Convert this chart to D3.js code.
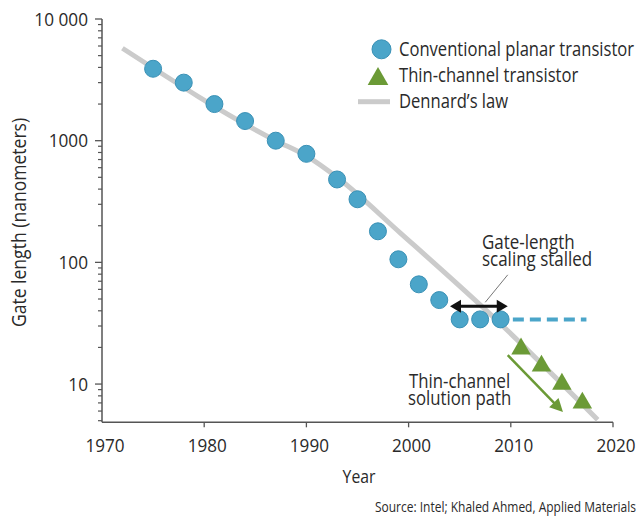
<!DOCTYPE html>
<html>
<head>
<meta charset="utf-8">
<script src="https://cdn.jsdelivr.net/npm/d3@7"></script>
<style>
  html, body { margin: 0; padding: 0; background: #fff; }
  svg { display: block; font-family: "Open Sans", sans-serif; }
</style>
</head>
<body>
<svg id="chart" width="638" height="516"></svg>
<script>
// Gate length of conventional planar transistors (nm) by year
const planarYears = [1975, 1978, 1981, 1984, 1987, 1990, 1993, 1995, 1997, 1999, 2001, 2003, 2005, 2007, 2009];
const planarNm    = [3900, 3000, 2000, 1450, 1000, 780, 480, 330, 180, 106, 66, 49, 34, 34, 34];

// Thin-channel transistors
const thinYears = [2011, 2013, 2015, 2017];
const thinNm    = [19.5, 14.1, 10, 7];

// Dennard's law trend
const dennardYears = [1972, 1987, 1990, 1993, 1999.2, 2008.6, 2018.5];
const dennardNm    = [5750, 1000, 750, 500, 174, 33.6, 5.1];

// Stalled planar scaling continued as a dashed level
const stallYears = [2010.2, 2017.4];
const stallNm = 34;

// Annotation anchors (year, nm)
const stallArrowYears = [2004.05, 2009.7];
const stallArrowNm = 43.5;
const leaderYears = [2007.5, 2009.7];
const leaderNm = [47, 79];
const thinArrowYears = [2009.7, 2015.1];
const thinArrowNm = [17.3, 5.9];

// Axes
const yMin = 4.85, yMax = 10000;
const yTicks = [10, 100, 1000, 10000];
const yTickLabels = ["10", "100", "1000", "10 000"];
const xTicks = [1970, 1980, 1990, 2000, 2010, 2020];

const legendItems = ["Conventional planar transistor", "Thin-channel transistor", "Dennard\u2019s law"];

const BLUE = "#4ba5c9", BLUE_EDGE = "#3a91b6", GREEN = "#6b9a36", GRAY = "#cbcbcb",
      AXIS = "#555", TEXT = "#2a2a2a";

const svg = d3.select("#chart");

const x = d3.scaleLinear().domain([1970, 2020]).range([102, 613]);
const y = d3.scaleLog().domain([yMin, yMax]).range([422.3, 19]);

// Squeeze text horizontally about its x anchor for a condensed look
function condense(sel, k) {
  sel.each(function () {
    const el = d3.select(this);
    const ax = +el.attr("x") || 0;
    const prev = el.attr("transform") || "";
    el.attr("transform", `${prev} matrix(${k},0,0,1,${(1 - k) * ax},0)`.trim());
  });
}

// ---- Y axis ----
const yAxisG = svg.append("g").attr("transform", `translate(${x(1970)},0)`);
yAxisG.append("line").attr("x1", 0).attr("x2", 0).attr("y1", y(yMax)).attr("y2", y(yMin))
  .attr("stroke", AXIS).attr("stroke-width", 1.5);
const minorTicks = [];
[1, 10, 100, 1000].forEach(d => { for (let m = 2; m <= 9; m++) if (d * m >= yMin) minorTicks.push(d * m); });
yAxisG.selectAll("line.minor").data(minorTicks.filter(v => v < yMax)).join("line")
  .attr("class", "minor").attr("x1", -4).attr("x2", 0)
  .attr("y1", d => y(d)).attr("y2", d => y(d)).attr("stroke", AXIS).attr("stroke-width", 1.2);
yAxisG.selectAll("line.major").data(yTicks).join("line")
  .attr("class", "major").attr("x1", -7).attr("x2", 0)
  .attr("y1", d => y(d)).attr("y2", d => y(d)).attr("stroke", AXIS).attr("stroke-width", 1.3);
const yLab = yAxisG.selectAll("text").data(yTicks).join("text")
  .attr("x", -14).attr("y", d => y(d)).attr("dy", "0.36em")
  .attr("text-anchor", "end").attr("font-size", 18.5).attr("fill", TEXT)
  .text((d, i) => yTickLabels[i]);
condense(yLab, 0.93);

// ---- X axis ----
const xAxisG = svg.append("g").attr("transform", `translate(0,${y(yMin)})`);
xAxisG.append("line").attr("x1", x(1970)).attr("x2", x(2020)).attr("y1", 0).attr("y2", 0)
  .attr("stroke", AXIS).attr("stroke-width", 1.5);
xAxisG.selectAll("line.tick").data(xTicks.slice(1)).join("line")
  .attr("class", "tick").attr("x1", d => x(d)).attr("x2", d => x(d)).attr("y1", 0).attr("y2", 5)
  .attr("stroke", AXIS).attr("stroke-width", 1.3);
const xLab = xAxisG.selectAll("text").data(xTicks).join("text")
  .attr("x", d => x(d) + 3).attr("y", 30).attr("text-anchor", "middle")
  .attr("font-size", 19).attr("fill", TEXT).text(d => d);
condense(xLab, 0.9);

// Axis titles
const yTitle = svg.append("text").attr("transform", "translate(26,222.5) rotate(-90)")
  .attr("text-anchor", "middle").attr("font-size", 19.5).attr("fill", TEXT)
  .text("Gate length (nanometers)");
condense(yTitle, 0.9);
const xTitle = svg.append("text").attr("x", 359).attr("y", 483).attr("text-anchor", "middle")
  .attr("font-size", 17.5).attr("fill", TEXT).text("Year");
condense(xTitle, 0.9);

// ---- Dennard's law ----
const line = d3.line().x(d => x(d[0])).y(d => y(d[1])).curve(d3.curveMonotoneX);
svg.append("path").datum(d3.zip(dennardYears, dennardNm)).attr("d", line)
  .attr("fill", "none").attr("stroke", GRAY).attr("stroke-width", 5);

// ---- Stalled scaling dashes ----
svg.append("line")
  .attr("x1", x(stallYears[0])).attr("x2", x(stallYears[1]))
  .attr("y1", y(stallNm)).attr("y2", y(stallNm))
  .attr("stroke", BLUE).attr("stroke-width", 4).attr("stroke-dasharray", "11,6");

// ---- Planar transistor points ----
svg.selectAll("circle.planar").data(d3.zip(planarYears, planarNm)).join("circle")
  .attr("class", "planar").attr("cx", d => x(d[0])).attr("cy", d => y(d[1])).attr("r", 8.5)
  .attr("fill", BLUE).attr("stroke", BLUE_EDGE).attr("stroke-width", 1);

// ---- Thin-channel points ----
const tri = d3.symbol(d3.symbolTriangle, 165);
svg.selectAll("path.thin").data(d3.zip(thinYears, thinNm)).join("path")
  .attr("class", "thin").attr("d", tri)
  .attr("transform", d => `translate(${x(d[0])},${y(d[1])})`)
  .attr("fill", GREEN);

// ---- Stall annotation: double arrow and leader ----
const ax0 = x(stallArrowYears[0]), ax1 = x(stallArrowYears[1]), ay = y(stallArrowNm);
svg.append("line").attr("x1", ax0 + 8).attr("x2", ax1 - 8).attr("y1", ay).attr("y2", ay)
  .attr("stroke", "#111").attr("stroke-width", 3);
svg.append("path").attr("d", `M${ax0},${ay} L${ax0 + 11},${ay - 6.5} L${ax0 + 11},${ay + 6.5} Z`).attr("fill", "#111");
svg.append("path").attr("d", `M${ax1},${ay} L${ax1 - 11},${ay - 6.5} L${ax1 - 11},${ay + 6.5} Z`).attr("fill", "#111");
svg.append("line")
  .attr("x1", x(leaderYears[0])).attr("y1", y(leaderNm[0]))
  .attr("x2", x(leaderYears[1])).attr("y2", y(leaderNm[1]))
  .attr("stroke", "#777").attr("stroke-width", 1);

const stallText = svg.append("g").attr("font-size", 19.5).attr("fill", TEXT);
stallText.append("text").attr("x", 482).attr("y", 249).text("Gate-length");
stallText.append("text").attr("x", 482).attr("y", 266.5).text("scaling stalled");
condense(stallText.selectAll("text"), 0.87);

// ---- Thin-channel solution path arrow ----
const gx0 = x(thinArrowYears[0]), gy0 = y(thinArrowNm[0]);
const gx1 = x(thinArrowYears[1]), gy1 = y(thinArrowNm[1]);
const ang = Math.atan2(gy1 - gy0, gx1 - gx0);
const hl = 13, hw = 6.5;
svg.append("line").attr("x1", gx0).attr("y1", gy0)
  .attr("x2", gx1 - Math.cos(ang) * (hl - 2)).attr("y2", gy1 - Math.sin(ang) * (hl - 2))
  .attr("stroke", GREEN).attr("stroke-width", 2.5);
{
  const bx = gx1 - Math.cos(ang) * hl, by = gy1 - Math.sin(ang) * hl;
  const px = -Math.sin(ang) * hw, py = Math.cos(ang) * hw;
  svg.append("path")
    .attr("d", `M${gx1},${gy1} L${bx + px},${by + py} L${bx - px},${by - py} Z`)
    .attr("fill", GREEN);
}
const thinText = svg.append("g").attr("font-size", 19.5).attr("fill", TEXT);
thinText.append("text").attr("x", 409).attr("y", 388).text("Thin-channel");
thinText.append("text").attr("x", 408).attr("y", 405.5).text("solution path");
condense(thinText.selectAll("text"), 0.86);

// ---- Legend ----
const lg = svg.append("g");
lg.append("circle").attr("cx", 381.5).attr("cy", 49.3).attr("r", 9.5)
  .attr("fill", BLUE).attr("stroke", BLUE_EDGE).attr("stroke-width", 1);
lg.append("path").attr("d", d3.symbol(d3.symbolTriangle, 185)).attr("transform", "translate(378,79)")
  .attr("fill", GREEN);
lg.append("line").attr("x1", 358).attr("x2", 390).attr("y1", 101.7).attr("y2", 101.7)
  .attr("stroke", GRAY).attr("stroke-width", 5);
const lgText = lg.selectAll("text").data(legendItems).join("text")
  .attr("x", 399).attr("y", (d, i) => 56.5 + i * 26)
  .attr("font-size", 20).attr("fill", TEXT).text(d => d);
condense(lgText, 0.83);

// ---- Source ----
const src = svg.append("text").attr("x", 636).attr("y", 512).attr("text-anchor", "end")
  .attr("font-size", 15).attr("fill", TEXT).text("Source: Intel; Khaled Ahmed, Applied Materials");
condense(src, 0.8);
</script>
</body>
</html>
